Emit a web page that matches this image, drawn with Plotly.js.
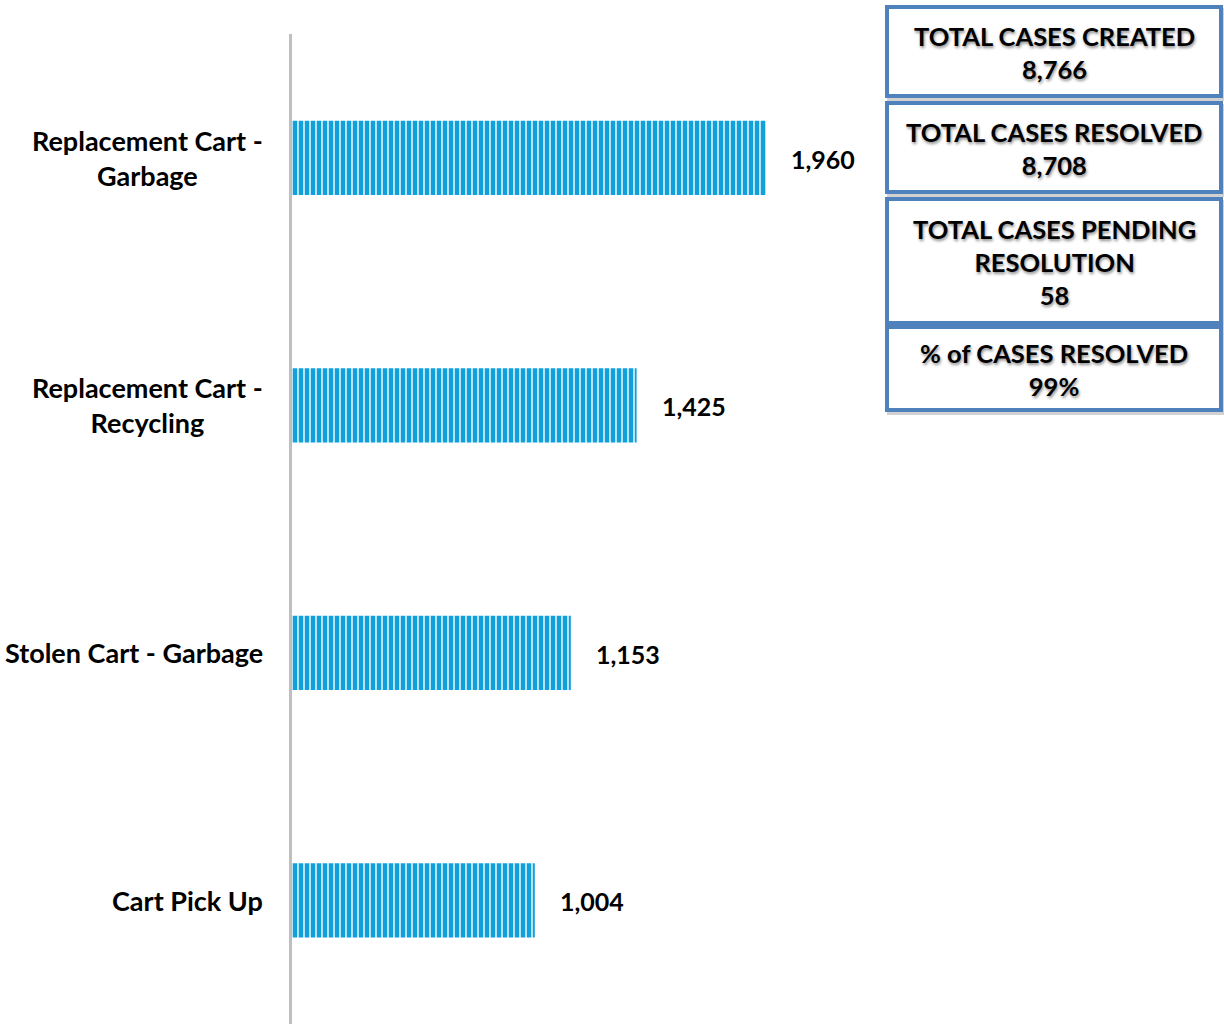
<!DOCTYPE html>
<html>
<head>
<meta charset="utf-8">
<script src="https://cdn.plot.ly/plotly-3.0.1.min.js"></script>
<style>html,body{margin:0;padding:0;background:#fff;}#chart{width:1224px;height:1024px;}</style>
</head>
<body>
<div id="chart"></div>
<script>
// ---- data ----
const categories = ['Replacement Cart - Garbage', 'Replacement Cart - Recycling', 'Stolen Cart - Garbage', 'Cart Pick Up'];
const categoryLabels = ['Replacement Cart -<br>Garbage', 'Replacement Cart -<br>Recycling', 'Stolen Cart - Garbage', 'Cart Pick Up'];
const values = [1960, 1425, 1153, 1004];
const kpiLabels = ['TOTAL CASES CREATED', 'TOTAL CASES RESOLVED', 'TOTAL CASES PENDING<br>RESOLUTION', '% of CASES RESOLVED'];
const kpiValues = ['8,766', '8,708', '58', '99%'];

// ---- layout helpers ----
const W = 1224, H = 1024;
const M = {l: 292, r: 0, t: 34, b: 0};
const pw = W - M.l - M.r, ph = H - M.t - M.b;
const px2x = p => (p - M.l) / pw;
const py2y = p => (H - M.b - p) / ph;

const FONT = 'Lato, "Open Sans", sans-serif';

const trace = {
  type: 'bar',
  orientation: 'h',
  y: categories,
  x: values,
  hoverinfo: 'x+y',
  marker: {
    color: '#a6dbf1',
    line: {width: 0},
    pattern: {shape: '|', fgcolor: '#10a0da', bgcolor: '#b5e2f5', size: 6, solidity: 0.66, fillmode: 'replace'}
  }
};

const annotations = [];
categories.forEach((c, i) => {
  annotations.push({
    xref: 'paper', yref: 'y', x: 0, y: c, xanchor: 'right', yanchor: 'middle',
    xshift: -27, align: 'center', showarrow: false,
    text: '<b>' + categoryLabels[i] + '</b>',
    font: {family: FONT, size: 27, color: '#000', weight: 900}
  });
  annotations.push({
    xref: 'x', yref: 'y', x: values[i], y: c, xanchor: 'left', yanchor: 'middle',
    xshift: 23, yshift: -1, showarrow: false,
    text: '<b>' + values[i].toLocaleString('en-US') + '</b>',
    font: {family: FONT, size: 25, color: '#000', weight: 900}
  });
});

// KPI boxes (pixel frames)
const boxes = [[7, 96], [103, 192], [199, 323], [327, 410]];
const bx0 = 887, bx1 = 1221;
const shapes = [];
boxes.forEach((b, i) => {
  shapes.push({type: 'rect', xref: 'paper', yref: 'paper', layer: 'above',
    x0: px2x(bx0 + 2), x1: px2x(bx1 + 2), y0: py2y(b[1] + 3), y1: py2y(b[0] + 3),
    line: {color: 'rgba(0,0,0,0.18)', width: 4}, fillcolor: 'rgba(0,0,0,0)'});
  shapes.push({type: 'rect', xref: 'paper', yref: 'paper', layer: 'above',
    x0: px2x(bx0), x1: px2x(bx1), y0: py2y(b[1]), y1: py2y(b[0]),
    line: {color: '#4f81bd', width: 4}, fillcolor: '#ffffff'});
  annotations.push({
    xref: 'paper', yref: 'paper', x: px2x((bx0 + bx1) / 2), y: py2y((b[0] + b[1]) / 2 + 1),
    xanchor: 'center', yanchor: 'middle', align: 'center', showarrow: false,
    text: '<b>' + kpiLabels[i] + '<br>' + kpiValues[i] + '</b>',
    font: {family: FONT, size: 25.5, color: '#000', weight: 900, shadow: '1px 2px 3px rgba(0,0,0,0.45)'}
  });
});

const layout = {
  width: W, height: H,
  margin: M,
  paper_bgcolor: '#ffffff', plot_bgcolor: '#ffffff',
  showlegend: false,
  bargap: 0.7,
  xaxis: {range: [0, pw / (474 / 1960)], visible: false, fixedrange: true},
  yaxis: {autorange: 'reversed', showticklabels: false, ticks: '', showgrid: false, zeroline: false,
          showline: true, linecolor: '#bfbfbf', linewidth: 3, fixedrange: true},
  shapes: shapes,
  annotations: annotations
};

Plotly.newPlot('chart', [trace], layout, {displayModeBar: false, staticPlot: true});
</script>
</body>
</html>
